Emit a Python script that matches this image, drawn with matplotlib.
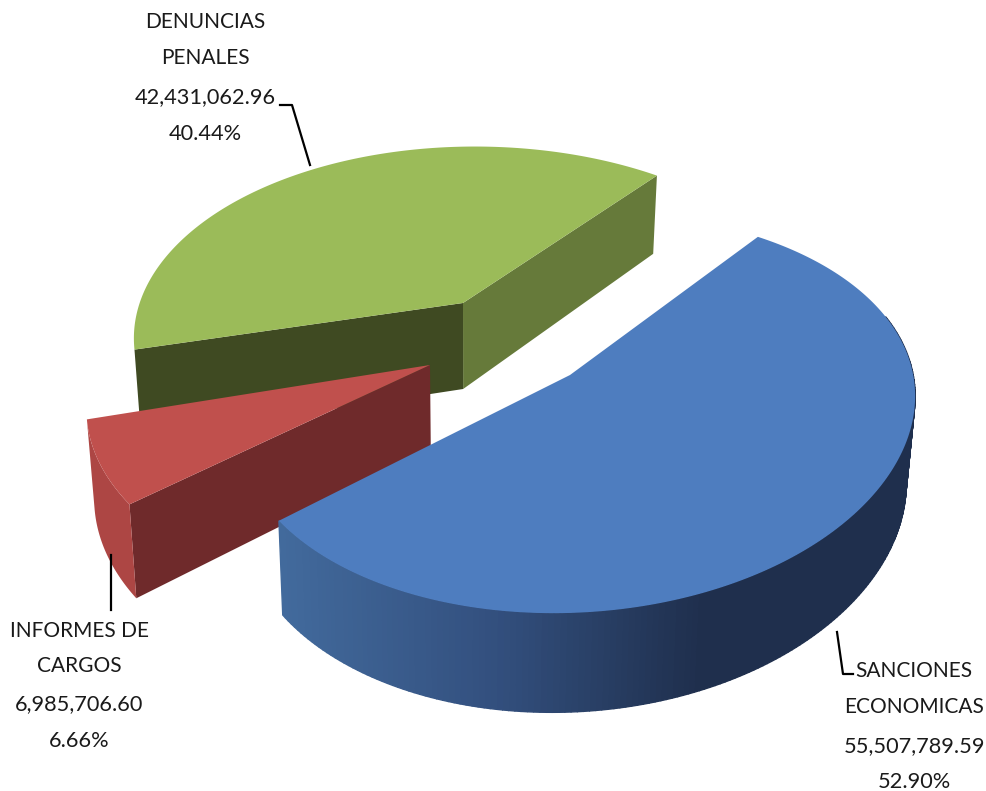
import numpy as np
import matplotlib
matplotlib.use('Agg')
import matplotlib.pyplot as plt
from matplotlib.patches import Polygon
from matplotlib.colors import LinearSegmentedColormap

# data
names = ['SANCIONES\nECONOMICAS', 'INFORMES DE\nCARGOS', 'DENUNCIAS\nPENALES']
values = [55507789.59, 6985706.60, 42431062.96]
amount_labels = ['55,507,789.59', '6,985,706.60', '42,431,062.96']
pct_labels = ['52.90%', '6.66%', '40.44%']

total = sum(values)
spans = [v / total * 360 for v in values]

# look of the tilted disc, in pixels
A, B, K = 335, 185, 0.23
START = 53.0
DEPTH = 86
FONT = 'Lato'


def project(u, v):
	w = 1 + K * v
	return A * u / w, -B * v / w, w


def rim(ang0, ang1, apex, rot, off, r, squash=0.0):
	deg = np.linspace(ang0, ang1, 240) + rot
	t = np.radians(deg)
	rr = r + squash * np.cos(2 * np.radians(deg - 60))
	x, y, w = project(off[0] + rr * np.cos(t), off[1] + rr * np.sin(t))
	return apex[0] + x, apex[1] + y, w


def drop(x, y, w):
	# bottom edge of the wall under a top edge point
	return x - (x - 470) * 0.02, y + DEPTH / w ** 0.55


fig = plt.figure(figsize=(9.87, 7.91), dpi=100)
ax = fig.add_axes([0, 0, 1, 1])
ax.set_xlim(0, 987)
ax.set_ylim(791, 0)
ax.axis('off')

# slices run clockwise from START
a_blue = (START, START - spans[0])
a_red = (a_blue[1], a_blue[1] - spans[1])
a_green = (a_red[1], a_red[1] - spans[2])

# green
apex = (463, 303)
x, y, w = rim(a_green[0], a_green[1], apex, -2.6, (0.044, 0.04), 1.01)
bx, by = drop(x, y, w)
ax_, ay_ = drop(apex[0], apex[1], 1.0)
ax.add_patch(Polygon([(x[-1], y[-1]), apex, (ax_, ay_), (bx[-1], by[-1])], fc='#667a3a', ec='none'))
ax.add_patch(Polygon([(x[0], y[0]), apex, (ax_, ay_), (bx[0], by[0])], fc='#3f4a22', ec='none'))
ax.add_patch(Polygon(list(zip(x, y)) + [apex], fc='#9bbb59', ec='none'))

# red
apex = (430, 365)
x, y, w = rim(a_red[0], a_red[1], apex, -2.6, (0.002, 0), 1.0)
bx, by = drop(x, y, w)
ax_, ay_ = drop(apex[0], apex[1], 1.0)
ax.add_patch(Polygon([(x[0], y[0]), apex, (ax_, ay_), (bx[0], by[0])], fc='#6f2a2b', ec='none'))
ax.add_patch(Polygon(list(zip(x, y)) + list(zip(bx[::-1], by[::-1])), fc='#ad4644', ec='none'))
ax.add_patch(Polygon(list(zip(x, y)) + [apex], fc='#c0504d', ec='none'))

# blue
apex = (570, 375)
x, y, w = rim(a_blue[0], a_blue[1], apex, 0.2, (0.04, 0.05), 1.015, squash=0.05)
bx, by = drop(x, y, w)
wall = LinearSegmentedColormap.from_list('wall', ['#1f2f4d', '#1f2f4d', '#33507f', '#426a9c'])
for i in range(len(x) - 1):
	if y[i] < apex[1] - 60:
		continue
	c = wall(np.clip((917 - x[i]) / 635, 0, 1))
	ax.add_patch(Polygon([(x[i], y[i]), (x[i + 1], y[i + 1]), (bx[i + 1], by[i + 1]), (bx[i], by[i])],
		fc=c, ec=c, lw=1.0))
ax.add_patch(Polygon(list(zip(x, y)) + [apex], fc='#4e7dbf', ec='none'))

# leaders
ax.plot([280, 292, 310], [105, 105, 165], color='black', lw=1.6)
ax.plot([111, 111], [555, 610], color='black', lw=1.6)
ax.plot([837, 843, 853], [632, 674, 674], color='black', lw=1.6)

# labels
spots = [(914, [671, 707, 746, 782]), (79, [631, 666, 704, 741]), (205, [22, 58, 97, 134])]
sizes = [15, 15, 15.7, 15.7]
for i in range(3):
	lines = names[i].split('\n') + [amount_labels[i], pct_labels[i]]
	cx, ys = spots[i]
	for s, yy, fs in zip(lines, ys, sizes):
		ax.text(cx, yy, s, ha='center', va='center', family=FONT, fontsize=fs, color='#1a1a1a')

fig.savefig('out.png', dpi=100)
